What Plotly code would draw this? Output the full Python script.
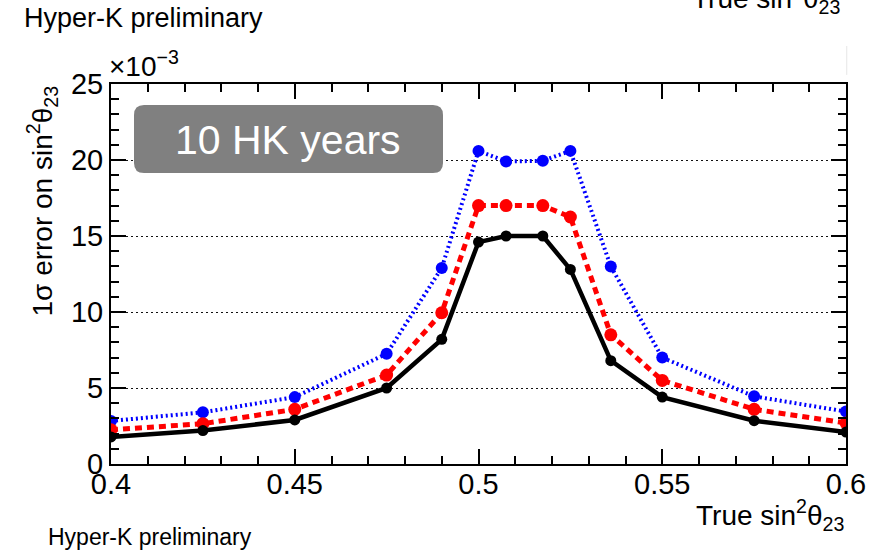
import plotly.graph_objects as go

# Data (values in units of 1e-3)
x_true = [0.4, 0.425, 0.45, 0.475, 0.49, 0.5, 0.5075, 0.5175, 0.525, 0.536, 0.55, 0.575, 0.6]
err_black = [1.78, 2.2, 2.9, 5.0, 8.2, 14.6, 15.0, 15.0, 12.8, 6.8, 4.4, 2.85, 2.1]
err_red = [2.25, 2.65, 3.6, 5.85, 9.95, 17.0, 17.0, 17.0, 16.25, 8.5, 5.5, 3.6, 2.7]
err_blue = [2.83, 3.4, 4.4, 7.25, 12.9, 20.6, 19.9, 19.95, 20.6, 13.0, 7.0, 4.45, 3.45]

x_ticks = [0.4, 0.45, 0.5, 0.55, 0.6]
x_tick_text = ["0.4", "0.45", "0.5", "0.55", "0.6"]
y_ticks = [0, 5, 10, 15, 20, 25]
y_tick_text = ["0", "5", "10", "15", "20", "25"]

FONT = "Liberation Sans, Arial, Helvetica, sans-serif"

fig = go.Figure()
fig.add_trace(go.Scatter(x=x_true, y=err_blue, mode="lines+markers",
                         line=dict(color="#0000ff", width=4, dash="2px,3px"),
                         marker=dict(color="#0000ff", size=12), showlegend=False))
fig.add_trace(go.Scatter(x=x_true, y=err_red, mode="lines+markers",
                         line=dict(color="#ff0000", width=5, dash="7px,5px"),
                         marker=dict(color="#ff0000", size=13), showlegend=False))
fig.add_trace(go.Scatter(x=x_true, y=err_black, mode="lines+markers",
                         line=dict(color="#000000", width=4.5),
                         marker=dict(color="#000000", size=11), showlegend=False))

axis_common = dict(
    showline=True, linecolor="black", linewidth=2, mirror="allticks",
    ticks="inside", tickcolor="black", tickwidth=1.5,
    tickfont=dict(family=FONT, size=29, color="black"),
    zeroline=False,
)

fig.update_xaxes(range=[0.4, 0.6], tickvals=x_ticks, ticktext=x_tick_text,
                 ticklen=15, showgrid=False, ticklabelstandoff=-7,
                 minor=dict(dtick=0.01, ticks="inside", ticklen=8, tickcolor="black", tickwidth=1.5),
                 **axis_common)
fig.update_yaxes(range=[0, 25], tickvals=y_ticks, ticktext=y_tick_text,
                 ticklen=15, showgrid=True, gridcolor="#111", gridwidth=1.2, griddash="1.5px,3.5px",
                 minor=dict(dtick=1, ticks="inside", ticklen=8, tickcolor="black", tickwidth=1.5),
                 **axis_common)

# Rounded label box
fig.add_shape(type="path", xref="paper", yref="paper", xsizemode="pixel", ysizemode="pixel",
              xanchor=0, yanchor=1,
              path="M 33,-21 L 322,-21 Q 332,-21 332,-31 L 332,-79 Q 332,-89 322,-89 L 33,-89 Q 23,-89 23,-79 L 23,-31 Q 23,-21 33,-21 Z",
              fillcolor="#808080", line=dict(width=0), layer="above")
# faint line top right
fig.add_shape(type="line", xref="paper", yref="paper", x0=1.001, x1=1.001, y0=1.024, y1=1.1,
              line=dict(color="#e6e6e6", width=1))

ann = []
ann.append(dict(text="10 HK years", xref="paper", yref="paper", x=(288 - 111) / 735, y=1 - (140 - 84) / 380,
                xanchor="center", yanchor="middle", showarrow=False,
                font=dict(family=FONT, size=41, color="white")))
ann.append(dict(text="1σ error on sin<sup>2</sup>θ<sub>23</sub>", xref="paper", yref="paper",
                x=(42 - 111) / 735, y=1, xanchor="center", yanchor="top", textangle=-90,
                showarrow=False, font=dict(family=FONT, size=28, color="black")))
ann.append(dict(text="True sin<sup>2</sup>θ<sub>23</sub>", xref="paper", yref="paper",
                x=1, y=-(515 - 464) / 380, xanchor="right", yanchor="middle", showarrow=False,
                font=dict(family=FONT, size=28, color="black")))
ann.append(dict(text="×10<sup>−3</sup>", xref="paper", yref="paper",
                x=-0.005, y=1, xanchor="left", yanchor="bottom", showarrow=False,
                font=dict(family=FONT, size=28, color="black")))
ann.append(dict(text="Hyper-K preliminary", xref="paper", yref="paper",
                x=(22 - 111) / 735, y=1 + (84 - 18) / 380, xanchor="left", yanchor="middle", showarrow=False,
                font=dict(family=FONT, size=27, color="black")))
ann.append(dict(text="Hyper-K preliminary", xref="paper", yref="paper",
                x=(46 - 111) / 735, y=-(537 - 464) / 380, xanchor="left", yanchor="middle", showarrow=False,
                font=dict(family=FONT, size=23, color="black")))
ann.append(dict(text="True sin<sup>2</sup>θ<sub>23</sub>", xref="paper", yref="paper",
                x=(842 - 111) / 735, y=1 + (84 + 2) / 380, xanchor="right", yanchor="middle", showarrow=False,
                font=dict(family=FONT, size=28, color="black")))

fig.update_layout(
    width=884, height=550,
    margin=dict(l=111, r=38, t=84, b=86),
    paper_bgcolor="white", plot_bgcolor="white",
    annotations=ann,
    font=dict(family=FONT),
)

fig.write_html("out.html", config={"displayModeBar": False},
               post_script="document.body.style.margin='0';document.body.style.padding='0';")
